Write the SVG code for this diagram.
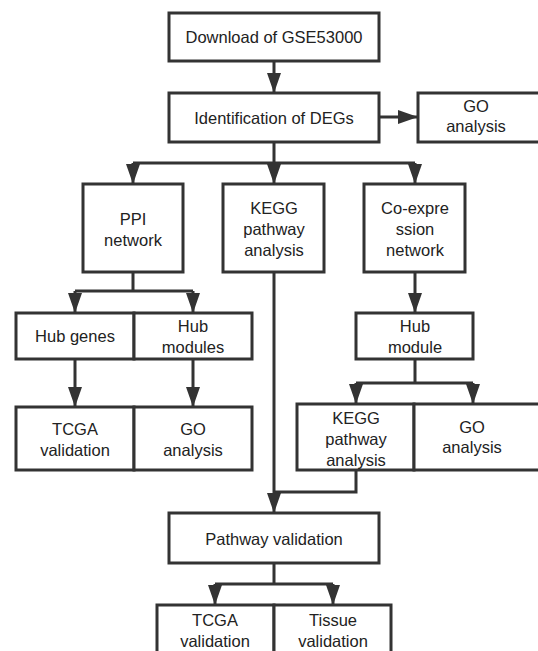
<svg xmlns="http://www.w3.org/2000/svg" width="538" height="651" viewBox="0 0 538 651">
<defs>
<marker id="arr" markerUnits="userSpaceOnUse" markerWidth="20" markerHeight="14" refX="20" refY="7" orient="auto">
<path d="M0,0 L20,7 L0,14 z" fill="#333"/>
</marker>
<style>
.box{fill:#fff;stroke:#333;stroke-width:3}
.ln{fill:none;stroke:#333;stroke-width:3}
.ar{fill:none;stroke:#333;stroke-width:3;marker-end:url(#arr)}
text{font-family:"Liberation Sans",Arial,sans-serif;font-size:16.5px;fill:#222;text-anchor:middle}
</style>
</defs>
<rect width="538" height="651" fill="#fff"/>
<g id="connectors">
<path class="ar" d="M274,61 V93"/>
<path class="ar" d="M379,117 H418"/>
<path class="ln" d="M274,142 V163 M133,163 H415"/>
<path class="ar" d="M133,163 V184"/>
<path class="ar" d="M274,163 V184"/>
<path class="ar" d="M415,163 V184"/>
<path class="ln" d="M133,272 V291 M75,291 H193"/>
<path class="ar" d="M75,291 V313"/>
<path class="ar" d="M193,291 V313"/>
<path class="ar" d="M75,359 V407"/>
<path class="ar" d="M193,359 V407"/>
<path class="ar" d="M415,272 V313"/>
<path class="ln" d="M415,359 V383 M356,383 H473"/>
<path class="ar" d="M356,383 V404"/>
<path class="ar" d="M473,383 V404"/>
<path class="ar" d="M274,272 V513"/>
<path class="ln" d="M356,470 V492 H274"/>
<path class="ln" d="M274,563 V584 M215,584 H333"/>
<path class="ar" d="M215,584 V605"/>
<path class="ar" d="M333,584 V605"/>
</g>
<g id="download">
<rect class="box" x="169" y="13" width="210" height="48"/>
<text x="274" y="43">Download of GSE53000</text>
</g>
<g id="degs">
<rect class="box" x="169" y="93" width="210" height="49"/>
<text x="274" y="124">Identification of DEGs</text>
</g>
<g id="go1">
<rect class="box" x="418" y="93" width="130" height="49"/>
<text x="476" y="112">GO</text>
<text x="476" y="132">analysis</text>
</g>
<g id="ppi">
<rect class="box" x="83" y="184" width="100" height="88"/>
<text x="133" y="225">PPI</text>
<text x="133" y="246">network</text>
</g>
<g id="kegg1">
<rect class="box" x="223" y="184" width="101" height="88"/>
<text x="274" y="214">KEGG</text>
<text x="274" y="235">pathway</text>
<text x="274" y="256">analysis</text>
</g>
<g id="coexp">
<rect class="box" x="364" y="184" width="101" height="88"/>
<text x="415" y="214">Co-expre</text>
<text x="415" y="235">ssion</text>
<text x="415" y="256">network</text>
</g>
<g id="hubgenes">
<rect class="box" x="16" y="313" width="118" height="46"/>
<text x="75" y="342">Hub genes</text>
</g>
<g id="hubmodules">
<rect class="box" x="134" y="313" width="118" height="46"/>
<text x="193" y="332">Hub</text>
<text x="193" y="353">modules</text>
</g>
<g id="tcga1">
<rect class="box" x="16" y="407" width="118" height="63"/>
<text x="75" y="435">TCGA</text>
<text x="75" y="456">validation</text>
</g>
<g id="go2">
<rect class="box" x="134" y="407" width="118" height="63"/>
<text x="193" y="435">GO</text>
<text x="193" y="456">analysis</text>
</g>
<g id="hubmodule">
<rect class="box" x="356" y="313" width="117" height="46"/>
<text x="415" y="332">Hub</text>
<text x="415" y="353">module</text>
</g>
<g id="kegg2">
<rect class="box" x="297" y="404" width="117" height="66"/>
<text x="356" y="424">KEGG</text>
<text x="356" y="445">pathway</text>
<text x="356" y="466">analysis</text>
</g>
<g id="go3">
<rect class="box" x="414" y="404" width="134" height="66"/>
<text x="472" y="433">GO</text>
<text x="472" y="453">analysis</text>
</g>
<g id="pathval">
<rect class="box" x="169" y="513" width="210" height="50"/>
<text x="274" y="545">Pathway validation</text>
</g>
<g id="tcga2">
<rect class="box" x="157" y="605" width="117" height="60"/>
<text x="215" y="626">TCGA</text>
<text x="215" y="647">validation</text>
</g>
<g id="tissue">
<rect class="box" x="274" y="605" width="117" height="60"/>
<text x="333" y="626">Tissue</text>
<text x="333" y="647">validation</text>
</g>
</svg>
